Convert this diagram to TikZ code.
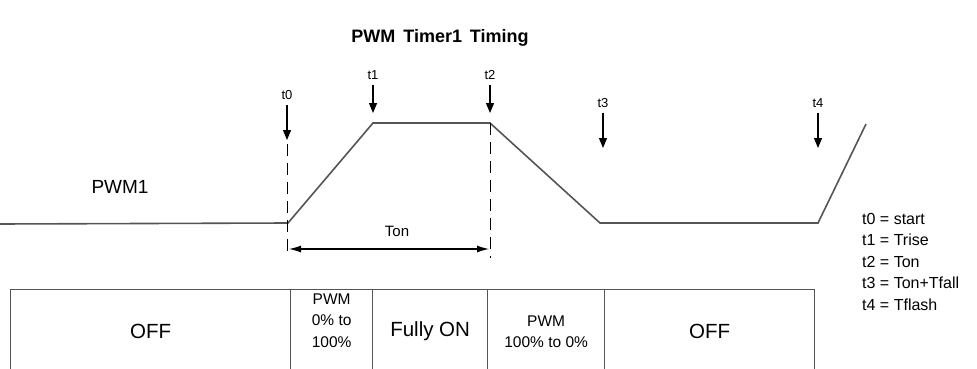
\documentclass[tikz,border=0pt]{standalone}
\usepackage{fontspec}
\setmainfont{Liberation Sans}
\usetikzlibrary{arrows.meta, positioning}
\definecolor{wire}{HTML}{555555}
\tikzset{
  cell/.style={rectangle,draw=wire,line width=1.3pt,anchor=north west,align=center,minimum height=84pt,inner sep=2pt,font=\fontsize{15.5}{21.5}\selectfont},
  big/.style={font=\fontsize{20.5}{24}\selectfont},
  tlabel/.style={inner sep=1pt,font=\fontsize{13}{15}\selectfont},
  tick/.style={-{Triangle[width=8pt,length=10pt]},line width=1.2pt,shorten <=4pt},
  signal/.style={draw=wire,line width=1.6pt,line join=miter},
  marker/.style={draw=black,line width=1pt,dash pattern=on 12pt off 7pt},
  span/.style={{Latex[width=7pt,length=12pt]}-{Latex[width=7pt,length=12pt]},line width=1.1pt}
}

\begin{document}
\begin{tikzpicture}[x=1pt,y=-1pt]
\useasboundingbox (0,0) rectangle (977,369);
\clip (0,0) rectangle (977,369);
\node[font=\bfseries\fontsize{18}{21}\selectfont] (title) at (440,38) {PWM\, Timer1\, Timing};
\node[font=\fontsize{19}{22}\selectfont] (pwm) at (120,187) {PWM1};
% signal corners
\coordinate (s0) at (0,224);
\coordinate (p0) at (288,223);
\coordinate (p1) at (373,123);
\coordinate (p2) at (490,123);
\coordinate (p3) at (600,223);
\coordinate (p4) at (818,223);
\coordinate (s1) at (866,124);
\path[signal] (s0) -- (p0) -- (p1) -- (p2) -- (p3) -- (p4) -- (s1);
% time markers
\node[tlabel] (l0) at (287,95) {t0};
\node[tlabel] (l1) at (373,75) {t1};
\node[tlabel] (l2) at (490,75) {t2};
\node[tlabel] (l3) at (603,103) {t3};
\node[tlabel] (l4) at (818,103) {t4};
\coordinate (a0) at (287,140);
\coordinate (a1) at (373,113);
\coordinate (a2) at (490,113);
\coordinate (a3) at (603,148);
\coordinate (a4) at (818,148);
\draw[tick] (l0) -- (a0);
\draw[tick] (l1) -- (a1);
\draw[tick] (l2) -- (a2);
\draw[tick] (l3) -- (a3);
\draw[tick] (l4) -- (a4);
\coordinate (d0) at (287,144);
\coordinate (e0) at (287,258);
\coordinate (e2) at (490,258);
\draw[marker] (d0) -- (e0);
\draw[marker] (p2) -- (e2);
% on time
\coordinate (ta) at (289,249);
\coordinate (tb) at (489,249);
\draw[span] (ta) -- (tb);
\node[tlabel,font=\fontsize{15}{17}\selectfont] (ton) at (397,231) {Ton};
% legend
\node[anchor=north west,align=left,inner sep=0pt,font=\fontsize{16}{21.5}\selectfont] (key) at (862,213)
  {t0 = start\\ t1 = Trise\\ t2 = Ton\\ t3 = Ton+Tfall\\ t4 = Tflash};
% state table
\node[cell,big,minimum width=280pt] (off1) at (10,289) {OFF};
\node[cell,minimum width=82pt,text depth=22pt] (rise) at (290,289) {PWM\\ 0\% to\\ 100\%};
\node[cell,big,minimum width=115pt] (full) at (372,289) {Fully ON};
\node[cell,minimum width=117pt] (fall) at (487,289) {PWM\\ 100\% to 0\%};
\node[cell,big,minimum width=210pt] (off2) at (604,289) {OFF};
\end{tikzpicture}
\end{document}
